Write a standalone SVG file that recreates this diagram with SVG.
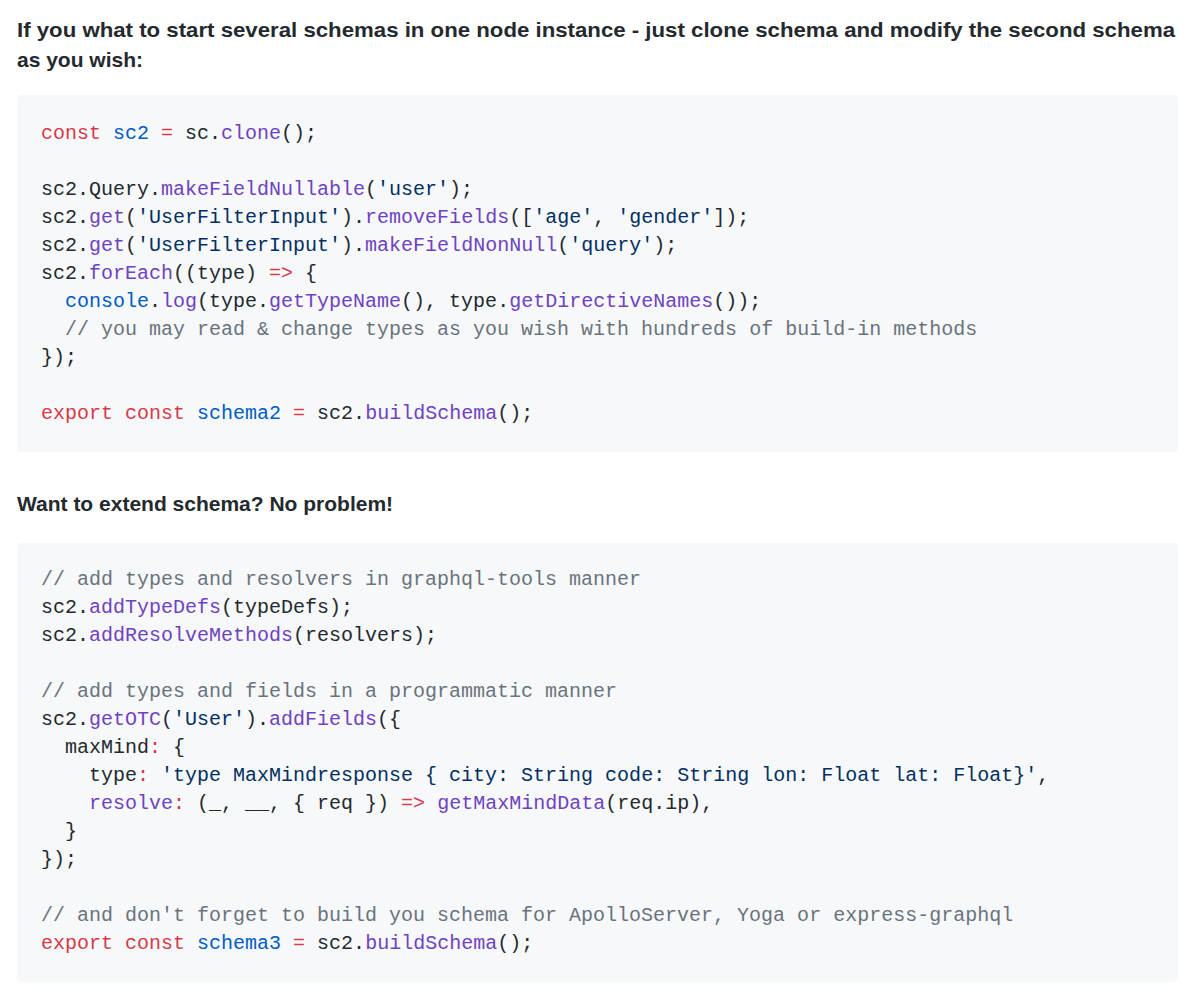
<svg xmlns="http://www.w3.org/2000/svg" width="1200" height="1003" viewBox="0 0 1200 1003">
<style>
.h{font-family:"Liberation Sans",Arial,sans-serif;font-weight:bold;font-size:21px;fill:#24292e}
.c{font-family:"Liberation Mono","DejaVu Sans Mono",monospace;font-size:20px;fill:#24292e;white-space:pre}
.k{fill:#d73a49}.b{fill:#005cc5}.p{fill:#6f42c1}.s{fill:#032f62}.m{fill:#6a737d}
.blk{fill:#f6f8fa}
</style>
<rect width="1200" height="1003" fill="#ffffff"/>
<g id="heading1">
<text class="h" x="17" y="37" textLength="1158" lengthAdjust="spacingAndGlyphs">If you what to start several schemas in one node instance - just clone schema and modify the second schema</text>
<text class="h" x="17" y="67">as you wish:</text>
</g>
<g id="code1">
<rect class="blk" x="17" y="95" width="1161" height="357" rx="4"/>
<text class="c" x="41" y="139"><tspan class="k">const</tspan> <tspan class="b">sc2</tspan> <tspan class="k">=</tspan> sc.<tspan class="p">clone</tspan>();</text>
<text class="c" x="41" y="195">sc2.Query.<tspan class="p">makeFieldNullable</tspan>(<tspan class="s">'user'</tspan>);</text>
<text class="c" x="41" y="223">sc2.<tspan class="p">get</tspan>(<tspan class="s">'UserFilterInput'</tspan>).<tspan class="p">removeFields</tspan>([<tspan class="s">'age'</tspan>, <tspan class="s">'gender'</tspan>]);</text>
<text class="c" x="41" y="251">sc2.<tspan class="p">get</tspan>(<tspan class="s">'UserFilterInput'</tspan>).<tspan class="p">makeFieldNonNull</tspan>(<tspan class="s">'query'</tspan>);</text>
<text class="c" x="41" y="279">sc2.<tspan class="p">forEach</tspan>((type) <tspan class="k">=&gt;</tspan> {</text>
<text class="c" x="41" y="307">  <tspan class="b">console</tspan>.<tspan class="p">log</tspan>(type.<tspan class="p">getTypeName</tspan>(), type.<tspan class="p">getDirectiveNames</tspan>());</text>
<text class="c" x="41" y="335">  <tspan class="m">// you may read &amp; change types as you wish with hundreds of build-in methods</tspan></text>
<text class="c" x="41" y="363">});</text>
<text class="c" x="41" y="419"><tspan class="k">export</tspan> <tspan class="k">const</tspan> <tspan class="b">schema2</tspan> <tspan class="k">=</tspan> sc2.<tspan class="p">buildSchema</tspan>();</text>
</g>
<g id="heading2">
<text class="h" x="17" y="511">Want to extend schema? No problem!</text>
</g>
<g id="code2">
<rect class="blk" x="17" y="543" width="1161" height="439" rx="4"/>
<text class="c" x="41" y="585"><tspan class="m">// add types and resolvers in graphql-tools manner</tspan></text>
<text class="c" x="41" y="613">sc2.<tspan class="p">addTypeDefs</tspan>(typeDefs);</text>
<text class="c" x="41" y="641">sc2.<tspan class="p">addResolveMethods</tspan>(resolvers);</text>
<text class="c" x="41" y="697"><tspan class="m">// add types and fields in a programmatic manner</tspan></text>
<text class="c" x="41" y="725">sc2.<tspan class="p">getOTC</tspan>(<tspan class="s">'User'</tspan>).<tspan class="p">addFields</tspan>({</text>
<text class="c" x="41" y="753">  maxMind<tspan class="k">:</tspan> {</text>
<text class="c" x="41" y="781">    type<tspan class="k">:</tspan> <tspan class="s">'type MaxMindresponse { city: String code: String lon: Float lat: Float}'</tspan>,</text>
<text class="c" x="41" y="809">    <tspan class="p">resolve</tspan><tspan class="k">:</tspan> (_, __, { req }) <tspan class="k">=&gt;</tspan> <tspan class="p">getMaxMindData</tspan>(req.ip),</text>
<text class="c" x="41" y="837">  }</text>
<text class="c" x="41" y="865">});</text>
<text class="c" x="41" y="921"><tspan class="m">// and don't forget to build you schema for ApolloServer, Yoga or express-graphql</tspan></text>
<text class="c" x="41" y="949"><tspan class="k">export</tspan> <tspan class="k">const</tspan> <tspan class="b">schema3</tspan> <tspan class="k">=</tspan> sc2.<tspan class="p">buildSchema</tspan>();</text>
</g>
</svg>
